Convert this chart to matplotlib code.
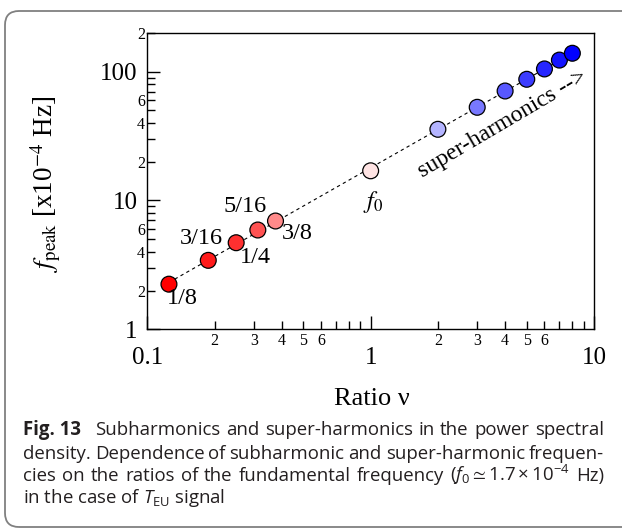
import numpy as np
import matplotlib
matplotlib.use('Agg')
import matplotlib.pyplot as plt
from matplotlib.ticker import FixedLocator, FuncFormatter
from matplotlib.patches import FancyBboxPatch
from matplotlib.transforms import IdentityTransform

# ---- data ----
ratios = [1/8, 3/16, 1/4, 5/16, 3/8, 1, 2, 3, 4, 5, 6, 7, 8]
fpeak = [2.24, 3.43, 4.70, 5.90, 6.93, 17.0, 35.7, 52.9, 70.8, 87.3, 105, 123, 139]
point_labels = ['1/8', '3/16', '1/4', '5/16', '3/8', '$f_0$']
x_major = [0.1, 1, 10]
x_major_labels = ['0.1', '1', '10']
y_major = [1, 10, 100]
y_major_labels = ['1', '10', '100']
x_minor_labelled = [2, 3, 4, 5, 6]
y_minor_labelled = [2, 4, 6]

caption_lines = [
    ['Subharmonics', 'and', 'super-harmonics', 'in', 'the', 'power', 'spectral'],
    ['density.', 'Dependence', 'of', 'subharmonic', 'and', 'super-harmonic', 'frequen-'],
    ['cies', 'on', 'the', 'ratios', 'of', 'the', 'fundamental', 'frequency',
     r'($f_0 \simeq 1.7\times10^{-4}$', 'Hz)'],
    [r'in the case of $T_{\rm EU}$ signal'],
]

# ---- styles ----
colors = ['#ff0000', '#ff1a1a', '#ff3030', '#ff5252', '#ff8a8a', '#ffe4e4',
          '#b4b4ff', '#7878ff', '#5858ff', '#3c3cff', '#2626ff', '#1414ff', '#0000ff']
label_offsets = [(13, -14), (-7, 22), (19, -15), (-13, 24), (22, -12), (3, -31)]

plt.rcParams['font.family'] = ['Liberation Serif', 'DejaVu Serif']
plt.rcParams['mathtext.fontset'] = 'custom'
plt.rcParams['mathtext.rm'] = 'Open Sans'
plt.rcParams['mathtext.it'] = 'Open Sans:italic'
plt.rcParams['mathtext.bf'] = 'Open Sans:bold'
plt.rcParams['mathtext.fallback'] = 'stixsans'

W, H = 622, 529
fig = plt.figure(figsize=(W / 100, H / 100), dpi=100)
L, R, T, B = 147.3, 594.0, 32.9, 329.3
ax = fig.add_axes([L / W, 1 - B / H, (R - L) / W, (B - T) / H])
ax.set_xscale('log')
ax.set_yscale('log')
ax.set_xlim(0.1, 10)
ax.set_ylim(1, 200)

# ticks
ax.xaxis.set_major_locator(FixedLocator(x_major))
ax.xaxis.set_major_formatter(FuncFormatter(
    lambda v, p: x_major_labels[p] if p is not None and p < len(x_major_labels) else ''))
xm = [m * d for d in (0.1, 1) for m in range(2, 10)]
ax.xaxis.set_minor_locator(FixedLocator(xm))
def xminfmt(v, p):
    m = int(round(v / 10 ** np.floor(np.log10(v) + 1e-9)))
    return str(m) if m in x_minor_labelled else ''
ax.xaxis.set_minor_formatter(FuncFormatter(xminfmt))

ax.yaxis.set_major_locator(FixedLocator(y_major))
ax.yaxis.set_major_formatter(FuncFormatter(
    lambda v, p: y_major_labels[p] if p is not None and p < len(y_major_labels) else ''))
ym = [m * d for d in (1, 10) for m in range(2, 10)] + [200]
ax.yaxis.set_minor_locator(FixedLocator(ym))
def yminfmt(v, p):
    m = int(round(v / 10 ** np.floor(np.log10(v) + 1e-9)))
    return str(m) if m in y_minor_labelled else ''
ax.yaxis.set_minor_formatter(FuncFormatter(yminfmt))

ax.tick_params(which='both', direction='in', top=False, right=False, width=1, colors='black')
ax.tick_params(which='major', length=9.5)
ax.tick_params(which='minor', length=5.5)
ax.tick_params(axis='x', which='major', pad=13, labelsize=18)
ax.tick_params(axis='x', which='minor', pad=3, labelsize=11.5)
ax.tick_params(axis='y', which='major', pad=7, labelsize=18)
ax.tick_params(axis='y', which='minor', pad=1.5, labelsize=11.5)
for s in ax.spines.values():
    s.set_linewidth(1.0)

# dashed fit line
lr = np.log10(ratios)
lf = np.log10(fpeak)
p = np.polyfit(lr, lf, 1)
xx = np.logspace(lr[0], lr[-1], 100)
ax.plot(xx, 10 ** np.polyval(p, np.log10(xx)), color='black', lw=0.8,
        linestyle=(0, (3, 3)), zorder=2)

ax.scatter(ratios, fpeak, s=130, c=colors, edgecolors='black', linewidths=0.9, zorder=3)

for i, lab in enumerate(point_labels):
    ax.annotate(lab, (ratios[i], fpeak[i]), xytext=label_offsets[i],
                textcoords='offset pixels', ha='center', va='center',
                fontsize=17.5, math_fontfamily='stix')

ax.text(3.9, 39.0, 'super-harmonics -->', rotation=30.5, rotation_mode='anchor',
        ha='center', va='center', fontsize=17)

fig.text(46 / W, 1 - 184 / H, r'$f_{\rm peak}$ [x10$^{-4}$ Hz]', rotation=90,
         ha='center', va='center', fontsize=19.5, math_fontfamily='stix')
fig.text(372 / W, 1 - 399 / H, 'Ratio ν', ha='center', va='center', fontsize=19)

# caption (justified lines)
cap_kw = dict(fontsize=13.4, color='#231f20', family='Open Sans', va='baseline', ha='left')
fig.canvas.draw()
renderer = fig.canvas.get_renderer()
fig.text(23 / W, 1 - 435 / H, 'Fig. 13', fontweight='bold', **cap_kw)
line_y = [435, 459, 481, 503]
line_x0 = [95, 23, 23, 23]
x_end = 604
for li, words in enumerate(caption_lines):
    y = 1 - line_y[li] / H
    if len(words) == 1:
        fig.text(line_x0[li] / W, y, words[0], **cap_kw)
        continue
    texts = [fig.text(0, y, w_, **cap_kw) for w_ in words]
    widths = [t.get_window_extent(renderer).width for t in texts]
    gap = (x_end - line_x0[li] - sum(widths)) / (len(words) - 1)
    x = line_x0[li]
    for t, wd in zip(texts, widths):
        t.set_x(x / W)
        x += wd + gap

frame = FancyBboxPatch((5, 2), 700, 516, boxstyle='round,pad=0,rounding_size=14',
                       transform=IdentityTransform(), facecolor='none',
                       edgecolor='#808080', lw=1.3)
fig.add_artist(frame)

fig.savefig('out.png', dpi=100)
